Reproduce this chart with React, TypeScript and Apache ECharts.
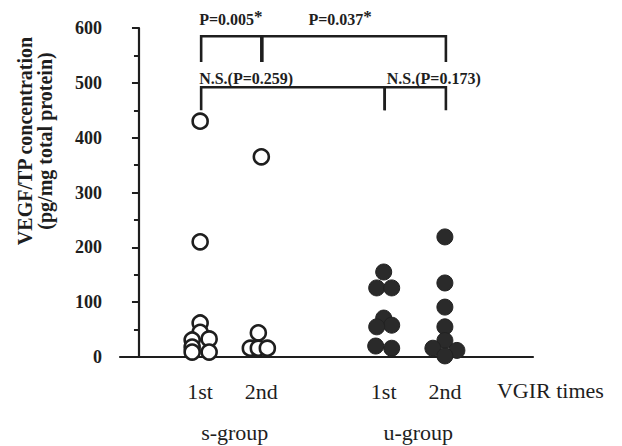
import React, { useEffect, useRef } from "react";
import * as echarts from "echarts";

// ---- data ----
const yMin = 0;
const yMax = 600;
const yInterval = 100;

const timeLabels = ["1st", "2nd", "1st", "2nd"];
const groupPositions = [1, 2, 4, 5];
const groupNames = ["s-group", "u-group"];
const xAxisName = "VGIR times";
const yTitle = ["VEGF/TP concentration", "(pg/mg total protein)"];

const s1Values = [430, 210, 62, 45, 33, 31, 18, 9, 9];
const s2Values = [365, 44, 16, 16, 16];
const u1Values = [155, 126, 126, 71, 58, 55, 20, 16];
const u2Values = [219, 135, 91, 55, 30, 16, 12, 2];

// brackets: from/to index into groupPositions, top & leg-end in data units
const brackets = [
  { from: 0, to: 1, top: 585, end: 538, label: "P=0.005", star: true },
  { from: 1, to: 3, top: 585, end: 538, label: "P=0.037", star: true },
  { from: 0, to: 2, top: 492, end: 450, label: "N.S.(P=0.259)", star: false },
  { from: 2, to: 3, top: 492, end: 450, label: "N.S.(P=0.173)", star: false },
];

// ---- styles (pixel jitter and label placement) ----
const s1Jitter = [0, 0, 0, 0, 9, -8, -8, -8, 9];
const s2Jitter = [0, -3, -11, -3, 6];
const u1Jitter = [0, -7, 8, 0, 8, -7, -8, 8];
const u2Jitter = [0, 0, 0, 0, 0, -12, 12, 0];
const bracketLabelStyle = [
  { align: "left", dx: -2, dy: -5 },
  { align: "center", dx: -14, dy: -5 },
  { align: "left", dx: -2, dy: -1 },
  { align: "left", dx: 2, dy: -1 },
];

const SERIF = "Liberation Serif, Times New Roman, serif";
const INK = "#1e1e1e";

function makeSeries(values: number[], jitter: number[], gi: number, filled: boolean) {
  return {
    type: "scatter",
    clip: false,
    symbol: "circle",
    symbolSize: filled ? 16 : 15,
    z: 3,
    itemStyle: filled
      ? { color: "#2a2a2a", borderColor: "#222", borderWidth: 1, opacity: 1 }
      : { color: "#ffffff", borderColor: INK, borderWidth: 2.6, opacity: 1 },
    emphasis: { disabled: true },
    data: values.map((v, i) => ({
      value: [groupPositions[gi], v],
      symbolOffset: [jitter[i] || 0, 0],
    })),
  };
}

export default function App() {
  const ref = useRef<HTMLDivElement>(null);
  useEffect(() => {
    if (!ref.current) return;
    const chart = echarts.init(ref.current, null, { renderer: "svg" });
    chart.setOption({
      animation: false,
      backgroundColor: "#ffffff",
      grid: { left: 120, right: 89, top: 28, bottom: 89 },
      xAxis: {
        type: "value",
        min: -0.31,
        max: 6.44,
        axisLine: { show: true, onZero: false, lineStyle: { color: INK, width: 2.2 } },
        axisTick: { show: false },
        axisLabel: { show: false },
        splitLine: { show: false },
      },
      yAxis: {
        type: "value",
        min: yMin,
        max: yMax,
        interval: yInterval,
        axisLine: { show: true, lineStyle: { color: INK, width: 2.2 } },
        axisTick: { show: true, inside: false, length: 7, lineStyle: { color: INK, width: 2 } },
        minorTick: { show: true, splitNumber: 2, length: 5, lineStyle: { color: INK, width: 2 } },
        axisLabel: {
          margin: 18,
          color: INK,
          fontFamily: SERIF,
          fontWeight: "bold",
          fontSize: 18,
        },
        splitLine: { show: false },
      },
      series: [
        makeSeries(s1Values, s1Jitter, 0, false),
        makeSeries(s2Values, s2Jitter, 1, false),
        makeSeries(u1Values, u1Jitter, 2, true),
        makeSeries(u2Values, u2Jitter, 3, true),
      ],
    });

    const px = (x: number, y: number) =>
      chart.convertToPixel({ xAxisIndex: 0, yAxisIndex: 0 }, [x, y]) as number[];
    const y0 = px(0, 0)[1];
    const graphics: any[] = [];
    const txt = (size: number, weight = "normal") => ({
      fontFamily: SERIF,
      fontSize: size,
      fontWeight: weight,
      fill: INK,
    });

    // time labels
    timeLabels.forEach((t, i) => {
      const p = px(groupPositions[i], 0);
      graphics.push({
        type: "text",
        x: p[0],
        y: y0 + 34,
        style: { text: t, ...txt(22), textAlign: "center", textVerticalAlign: "middle" },
      });
    });
    // group labels
    groupNames.forEach((g, i) => {
      const a = px(groupPositions[i * 2], 0)[0];
      const b = px(groupPositions[i * 2 + 1], 0)[0];
      graphics.push({
        type: "text",
        x: (a + b) / 2 + 4,
        y: y0 + 75,
        style: { text: g, ...txt(22), textAlign: "center", textVerticalAlign: "middle" },
      });
    });
    // x-axis name
    graphics.push({
      type: "text",
      x: px(5.85, 0)[0],
      y: y0 + 33,
      style: { text: xAxisName, ...txt(22), textAlign: "left", textVerticalAlign: "middle" },
    });
    // y title
    graphics.push({
      type: "text",
      x: 35,
      y: 141,
      rotation: Math.PI / 2,
      style: {
        text: yTitle.join("\n"),
        ...txt(20, "bold"),
        lineHeight: 20,
        textAlign: "center",
        textVerticalAlign: "middle",
      },
    });
    // brackets
    brackets.forEach((b, i) => {
      const x1 = px(groupPositions[b.from], 0)[0] + 1;
      const x2 = px(groupPositions[b.to], 0)[0] + (i === 0 ? 0 : 1);
      const yt = px(0, b.top)[1];
      const ye = px(0, b.end)[1];
      graphics.push({
        type: "polyline",
        z: 10,
        shape: { points: [[x1, ye], [x1, yt], [x2, yt], [x2, ye]] },
        style: { stroke: INK, lineWidth: 2.6, fill: "none" },
      });
      const st = bracketLabelStyle[i];
      const lx = st.align === "center" ? (x1 + x2) / 2 + st.dx : x1 + st.dx;
      graphics.push({
        type: "text",
        z: 11,
        x: lx,
        y: yt + st.dy,
        style: {
          text: b.star ? `{m|${b.label}}{s|*}` : b.label,
          ...txt(16, "bold"),
          rich: {
            m: { fontFamily: SERIF, fontSize: 16, fontWeight: "bold", fill: INK, color: INK },
            s: {
              fontFamily: SERIF,
              fontSize: 17,
              fontWeight: "bold",
              fill: INK,
              color: INK,
              verticalAlign: "top",
              padding: [0, 0, 6, 0],
            },
          },
          textAlign: st.align,
          textVerticalAlign: "bottom",
        },
      });
    });

    chart.setOption({ graphic: graphics });
    return () => chart.dispose();
  }, []);
  return (
    <div
      ref={ref}
      style={{ position: "fixed", left: 0, top: 0, width: 622, height: 446, background: "#fff" }}
    />
  );
}
